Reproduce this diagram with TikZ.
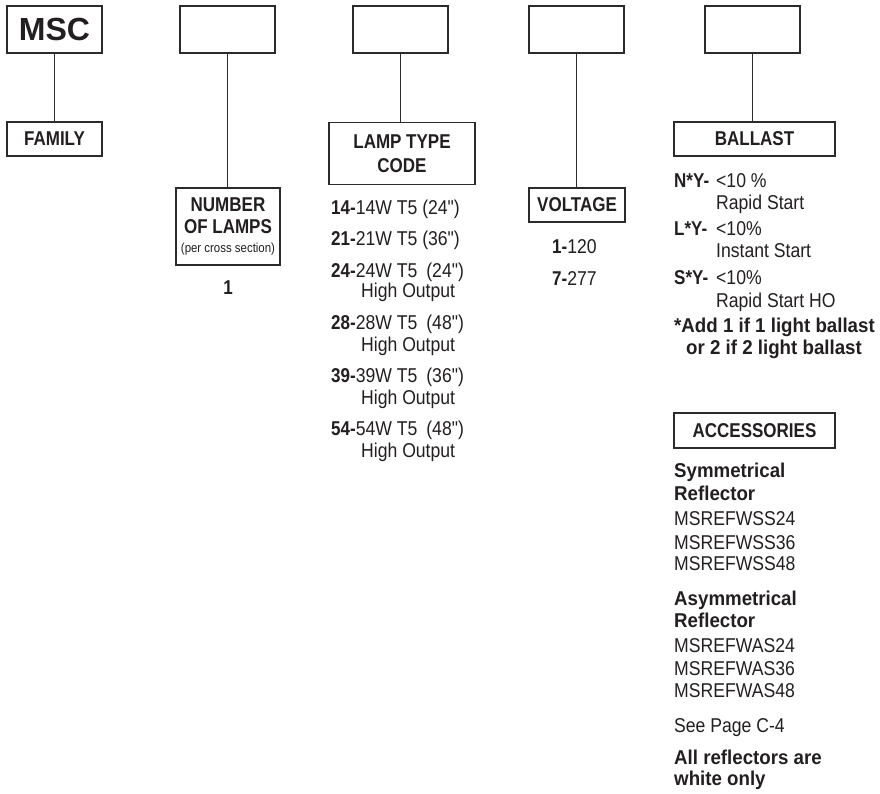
\documentclass[tikz,border=0pt]{standalone}
\usepackage{fontspec}
\setmainfont{Liberation Sans}
\newfontfamily\rf{Liberation Sans}[FakeStretch=0.88]
\newfontfamily\bff{Liberation Sans Bold}[FakeStretch=0.85]
\newfontfamily\blf{Liberation Sans Bold}[FakeStretch=0.935]
\newfontfamily\mscf{Liberation Sans Bold}
\definecolor{txtc}{HTML}{231F20}
\definecolor{linec}{HTML}{2B2B2B}
\newcommand\hd{\bff\fontsize{20}{22}\selectfont}
\newcommand\hl{\blf\fontsize{20}{22}\selectfont}
\newcommand\bd{\rf\fontsize{20}{22}\selectfont}
\tikzset{
  box/.style={draw=linec, line width=1.3pt, inner sep=0pt, align=center, text=txtc, fill=white},
  topbox/.style={box, minimum width=95pt, minimum height=47pt},
  item/.style={anchor=base west, inner sep=0pt, text=txtc, font=\bd},
  conn/.style={draw=linec, line width=1.1pt}
}
\begin{document}
\begin{tikzpicture}[x=1pt,y=-1pt]
\useasboundingbox (0,0) rectangle (880,793);
% top boxes
\node[topbox] (msc) at (54.5,29.5) {\mscf\fontsize{32}{34}\selectfont MSC};
\node[topbox] (t2) at (227.5,29.5) {};
\node[topbox] (t3) at (400.5,29.5) {};
\node[topbox] (t4) at (576.5,29.5) {};
\node[topbox] (t5) at (752.5,29.5) {};
% category boxes
\node[box, minimum width=95pt, minimum height=34pt, font=\hd] (fam) at (54.5,139) {FAMILY};
\node[box, minimum width=104pt, minimum height=77pt, font=\hd] (num) at (228,226.5)
  {NUMBER\\OF LAMPS\\[-3pt]{\rf\fontsize{13}{14}\selectfont (per cross section)}};
\node[box, minimum width=146pt, minimum height=62pt, font=\hd] (lamp) at (402,153.5) {LAMP TYPE\\[2pt]CODE};
\node[box, minimum width=96pt, minimum height=34pt, font=\hd] (volt) at (577,205) {VOLTAGE};
\node[box, minimum width=161pt, minimum height=34pt, font=\hd] (ball) at (754.5,139) {BALLAST};
\node[box, minimum width=161pt, minimum height=35pt, font=\hd] (acc) at (754.5,430.5) {ACCESSORIES};
% connectors
\draw[conn] (msc.south) -- (msc.south |- fam.north);
\draw[conn] (t2.south) -- (t2.south |- num.north);
\draw[conn] (t3.south) -- (t3.south |- lamp.north);
\draw[conn] (t4.south) -- (t4.south |- volt.north);
\draw[conn] (t5.south) -- (t5.south |- ball.north);
% number of lamps
\node[item, anchor=base] (n1) at (228,294) {\hd 1};
% lamp type codes
\node[item] (l14) at (331,214) {{\hd 14-}14W T5 (24")};
\node[item] (l21) at (331,245) {{\hd 21-}21W T5 (36")};
\node[item] (l24) at (331,277) {{\hd 24-}24W T5\hspace{9pt}(24")};
\node[item] (l24b) at (361,297) {High Output};
\node[item] (l28) at (331,329) {{\hd 28-}28W T5\hspace{9pt}(48")};
\node[item] (l28b) at (361,351) {High Output};
\node[item] (l39) at (331,382) {{\hd 39-}39W T5\hspace{9pt}(36")};
\node[item] (l39b) at (361,404) {High Output};
\node[item] (l54) at (331,435) {{\hd 54-}54W T5\hspace{9pt}(48")};
\node[item] (l54b) at (361,457) {High Output};
% voltage
\node[item] (v1) at (552,253) {{\hd 1-}120};
\node[item] (v7) at (552,285) {{\hd 7-}277};
% ballast
\node[item] (bn) at (674,187) {\hd N*Y-};
\node[item] (bn1) at (716,187) {<10 \%};
\node[item] (bn2) at (716,209) {Rapid Start};
\node[item] (bl) at (674,235) {\hd L*Y-};
\node[item] (bl1) at (716,235) {<10\%};
\node[item] (bl2) at (716,257) {Instant Start};
\node[item] (bs) at (674,284) {\hd S*Y-};
\node[item] (bs1) at (716,284) {<10\%};
\node[item] (bs2) at (716,307) {Rapid Start HO};
\node[item, font=\hl] (bnote1) at (674,332) {*Add 1 if 1 light ballast};
\node[item, font=\hl] (bnote2) at (686,354) {or 2 if 2 light ballast};
% accessories
\node[item, font=\hl] (a1) at (674,477) {Symmetrical};
\node[item, font=\hl] (a2) at (674,500) {Reflector};
\node[item] (a3) at (674,525) {MSREFWSS24};
\node[item] (a4) at (674,549) {MSREFWSS36};
\node[item] (a5) at (674,570) {MSREFWSS48};
\node[item, font=\hl] (a6) at (674,605) {Asymmetrical};
\node[item, font=\hl] (a7) at (674,627) {Reflector};
\node[item] (a8) at (674,652) {MSREFWAS24};
\node[item] (a9) at (674,675) {MSREFWAS36};
\node[item] (a10) at (674,697) {MSREFWAS48};
\node[item] (a11) at (674,732) {See Page C-4};
\node[item, font=\hl] (a12) at (674,764) {All reflectors are};
\node[item, font=\hl] (a13) at (674,785) {white only};
\end{tikzpicture}
\end{document}
